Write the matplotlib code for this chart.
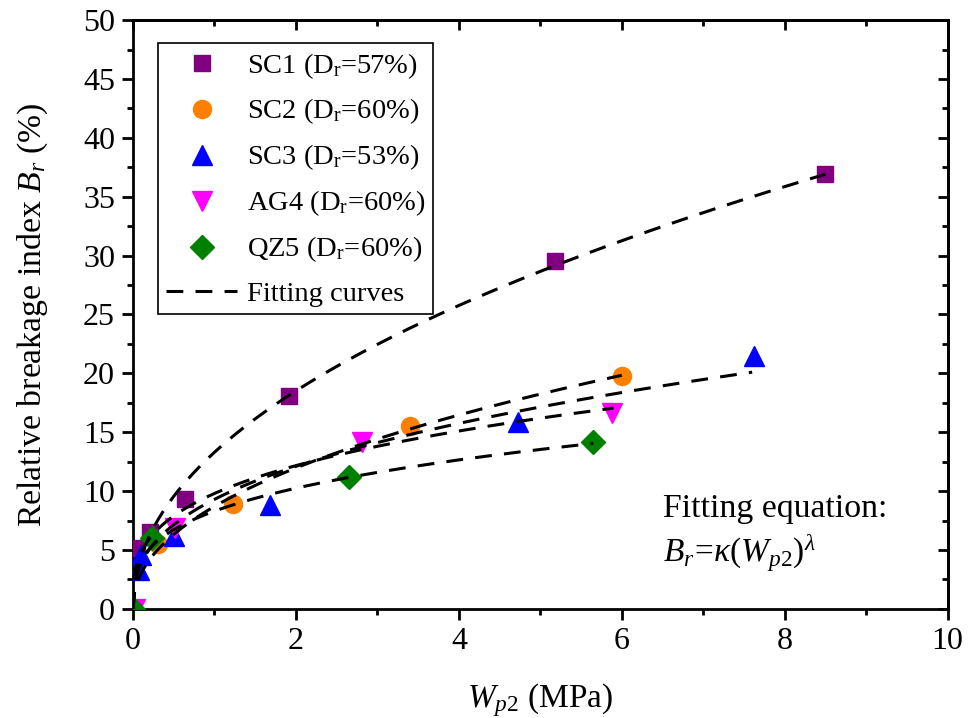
import numpy as np
import matplotlib
matplotlib.use("Agg")
import matplotlib.pyplot as plt
from matplotlib.lines import Line2D
from matplotlib.ticker import MultipleLocator, NullFormatter

plt.rcParams["font.family"] = ["Liberation Serif", "DejaVu Serif"]
plt.rcParams["mathtext.fontset"] = "custom"
plt.rcParams["mathtext.rm"] = "Liberation Serif"
plt.rcParams["mathtext.it"] = "Liberation Serif:italic"

# measured points (W_p2 in MPa, B_r in %)
wp2_sc1 = [0.0, 0.05, 0.21, 0.64, 1.91, 5.18, 8.50]
br_sc1 = [0.0, 5.2, 6.5, 9.3, 18.1, 29.5, 36.9]
wp2_sc2 = [0.0, 0.31, 1.23, 3.40, 6.00]
br_sc2 = [0.0, 5.5, 8.9, 15.5, 19.8]
wp2_sc3 = [0.0, 0.07, 0.10, 0.50, 1.68, 4.72, 7.62]
br_sc3 = [0.0, 3.3, 4.6, 6.2, 8.8, 15.9, 21.5]
wp2_ag4 = [0.03, 0.52, 2.81, 5.88]
br_ag4 = [0.0, 6.9, 14.2, 16.6]
wp2_qz5 = [0.0, 0.23, 2.65, 5.65]
br_qz5 = [0.0, 6.0, 11.2, 14.2]

labels = ["SC1 (D$_\\mathrm{r}$=57%)", "SC2 (D$_\\mathrm{r}$=60%)", "SC3 (D$_\\mathrm{r}$=53%)",
          "AG4 (D$_\\mathrm{r}$=60%)", "QZ5 (D$_\\mathrm{r}$=60%)"]

# power-law fits  B_r = kappa * W_p2 ** lam
kappa = [13.3, 8.7, 9.3, 9.8, 8.3]
lam = [0.477, 0.46, 0.38, 0.312, 0.304]
fit_end = [8.50, 6.00, 7.60, 5.90, 5.65]

series = [(wp2_sc1, br_sc1), (wp2_sc2, br_sc2), (wp2_sc3, br_sc3), (wp2_ag4, br_ag4), (wp2_qz5, br_qz5)]
colors = ["#800080", "#FF8000", "#0000FF", "#FF00FF", "#008000"]
markers = ["s", "o", "^", "v", "D"]
msizes = [11, 13, 15, 15, 12]

fig = plt.figure(figsize=(9.78, 7.18), dpi=100)
ax = fig.add_axes([0.136, 0.152, 0.833, 0.820])

handles = []
for (x, y), c, m, ms, lab in zip(series, colors, markers, msizes, labels):
    h, = ax.plot(x, y, linestyle="none", marker=m, ms=ms, color=c, mec=c, zorder=3, label=lab)
    handles.append(h)

for k, l, xe in zip(kappa, lam, fit_end):
    xs = np.linspace(0, xe, 300)
    ax.plot(xs, k * xs ** l, color="black", lw=2.2, dashes=(5.5, 4), zorder=4)

fit_handle = Line2D([], [], color="black", lw=2.2, dashes=(5.5, 4))
handles.append(fit_handle)

ax.set_xlim(0, 10)
ax.set_ylim(0, 50)
ax.xaxis.set_major_locator(MultipleLocator(2))
ax.xaxis.set_minor_locator(MultipleLocator(1))
ax.yaxis.set_major_locator(MultipleLocator(5))
ax.yaxis.set_minor_locator(MultipleLocator(2.5))
ax.tick_params(which="major", direction="out", length=8, width=2, labelsize=23, pad=5)
ax.tick_params(which="minor", direction="out", length=4, width=2)
for sp in ax.spines.values():
    sp.set_linewidth(2)

# mirrored ticks pointing inward on top and right
top = ax.secondary_xaxis("top")
top.xaxis.set_major_locator(MultipleLocator(2))
top.xaxis.set_minor_locator(MultipleLocator(1))
top.xaxis.set_major_formatter(NullFormatter())
top.tick_params(which="major", direction="in", length=7, width=2)
top.tick_params(which="minor", direction="in", length=4, width=2)
right = ax.secondary_yaxis("right")
right.yaxis.set_major_locator(MultipleLocator(5))
right.yaxis.set_minor_locator(MultipleLocator(2.5))
right.yaxis.set_major_formatter(NullFormatter())
right.tick_params(which="major", direction="in", length=7, width=2)
right.tick_params(which="minor", direction="in", length=4, width=2)
for sec in (top, right):
    for sp in sec.spines.values():
        sp.set_linewidth(2)

ax.set_xlabel("$W_{p2}$ (MPa)", fontsize=24, labelpad=18)
ax.set_ylabel("Relative breakage index $B_r$ (%)", fontsize=24.3, labelpad=24)

leg = ax.legend(handles, labels + ["Fitting curves"], loc="upper left",
                bbox_to_anchor=(0.031, 0.961), borderaxespad=0, fontsize=20.5,
                handlelength=2.5, handletextpad=0.35, labelspacing=0.57, borderpad=0.27,
                fancybox=False, edgecolor="black", framealpha=1)
leg.get_frame().set_linewidth(1.2)

ax.text(0.650, 0.170, "Fitting equation:", transform=ax.transAxes, fontsize=24.3, va="center")
ax.text(0.650, 0.094, "$B_r\\!=\\!\\kappa(W_{p2})^{\\lambda}$", transform=ax.transAxes,
        fontsize=24, va="center")

fig.savefig("out.png", dpi=100)
